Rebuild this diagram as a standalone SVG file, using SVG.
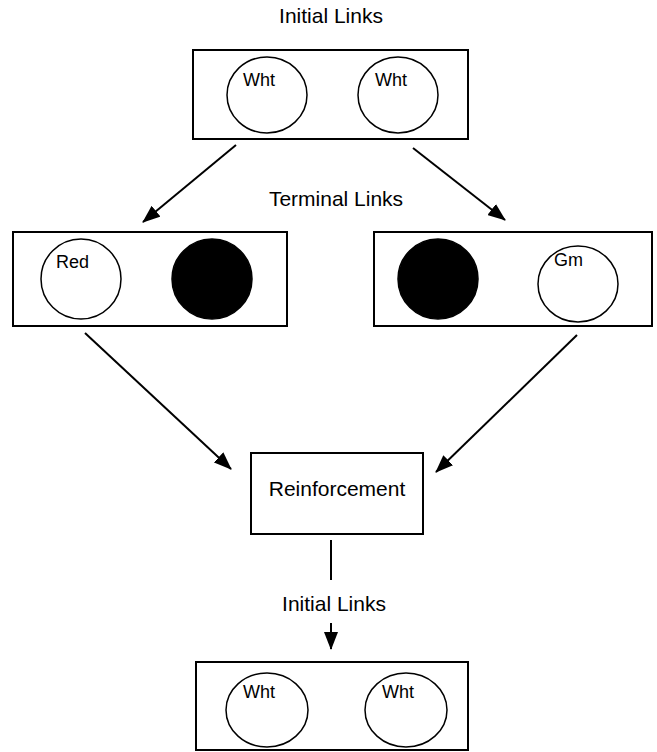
<svg xmlns="http://www.w3.org/2000/svg" width="657" height="752" viewBox="0 0 657 752">
<style>
.box{fill:#fff;stroke:#000;stroke-width:2}
.c{fill:#fff;stroke:#000;stroke-width:1.5}
.f{fill:#000;stroke:#000;stroke-width:1.5}
.lab{font-family:"Liberation Sans",Arial,sans-serif;font-size:21px;fill:#000}
.sm{font-family:"Liberation Sans",Arial,sans-serif;font-size:18px;fill:#000}
.ln{stroke:#000;stroke-width:2;fill:none}
</style>
<defs>
<marker id="ah" markerUnits="userSpaceOnUse" markerWidth="18" markerHeight="14" refX="17" refY="7" orient="auto">
<path d="M0,0 L18,7 L0,14 z" fill="#000"/>
</marker>
</defs>
<rect width="657" height="752" fill="#fff"/>
<text class="lab" x="331" y="23" text-anchor="middle">Initial Links</text>
<text class="lab" x="336" y="206" text-anchor="middle">Terminal Links</text>
<text class="lab" x="334" y="611" text-anchor="middle">Initial Links</text>
<g id="connectors">
<line class="ln" x1="236" y1="145" x2="143" y2="222" marker-end="url(#ah)"/>
<line class="ln" x1="413" y1="148" x2="505" y2="220" marker-end="url(#ah)"/>
<line class="ln" x1="85" y1="333" x2="231" y2="469" marker-end="url(#ah)"/>
<line class="ln" x1="577" y1="335" x2="436" y2="472" marker-end="url(#ah)"/>
<line class="ln" x1="331" y1="540" x2="331" y2="580"/>
<line class="ln" x1="331" y1="623" x2="331" y2="649" marker-end="url(#ah)"/>
</g>
<g id="initial-top">
<rect class="box" x="193" y="50" width="275" height="89"/>
<ellipse class="c" cx="267" cy="95" rx="40" ry="38"/>
<ellipse class="c" cx="398" cy="95" rx="40" ry="38"/>
<text class="sm" x="243" y="86">Wht</text>
<text class="sm" x="375" y="86">Wht</text>
</g>
<g id="terminal-left">
<rect class="box" x="13" y="232" width="274" height="94"/>
<ellipse class="c" cx="81" cy="279" rx="40" ry="40"/>
<ellipse class="f" cx="212" cy="279" rx="40" ry="40"/>
<text class="sm" x="56" y="268">Red</text>
</g>
<g id="terminal-right">
<rect class="box" x="374" y="232" width="278" height="94"/>
<ellipse class="f" cx="438" cy="279" rx="40" ry="40"/>
<ellipse class="c" cx="578" cy="284" rx="40" ry="38"/>
<text class="sm" x="554" y="266">Gm</text>
</g>
<g id="reinforcement">
<rect class="box" x="251" y="453" width="172" height="81"/>
<text class="lab" x="337" y="496" text-anchor="middle">Reinforcement</text>
</g>
<g id="initial-bottom">
<rect class="box" x="196" y="662" width="272" height="88"/>
<ellipse class="c" cx="267" cy="710" rx="41" ry="37"/>
<ellipse class="c" cx="406" cy="710" rx="41" ry="37"/>
<text class="sm" x="243" y="698">Wht</text>
<text class="sm" x="382" y="698">Wht</text>
</g>
</svg>
